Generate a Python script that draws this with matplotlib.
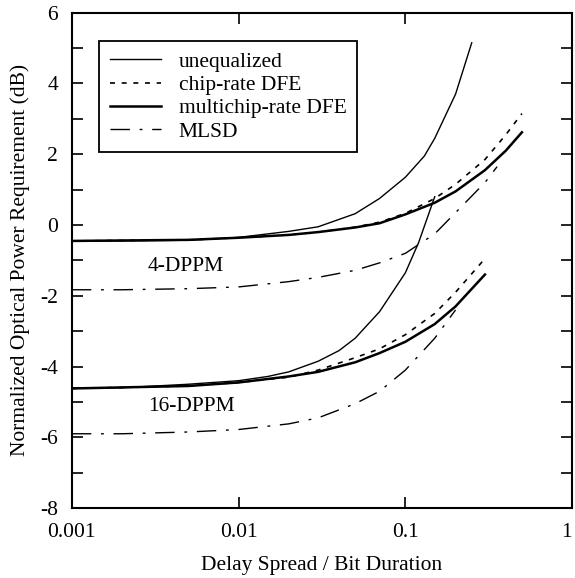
import matplotlib.pyplot as plt
from matplotlib.ticker import FixedLocator, MultipleLocator

plt.rcParams['font.family'] = ['Liberation Serif', 'DejaVu Serif']
plt.rcParams['font.size'] = 15.5
plt.rcParams['axes.unicode_minus'] = False

# 4-DPPM curves (delay spread / bit duration, dB)
x4_uneq = [0.001, 0.002, 0.005, 0.01, 0.02, 0.03, 0.05, 0.07, 0.1, 0.13, 0.15, 0.2, 0.25]
y4_uneq = [-0.45, -0.45, -0.43, -0.35, -0.18, -0.05, 0.32, 0.75, 1.35, 1.95, 2.45, 3.7, 5.15]

x4_chip = [0.001, 0.005, 0.01, 0.02, 0.03, 0.05, 0.07, 0.1, 0.15, 0.2, 0.3, 0.4, 0.5]
y4_chip = [-0.45, -0.42, -0.36, -0.28, -0.2, -0.06, 0.08, 0.33, 0.75, 1.15, 1.85, 2.55, 3.15]

x4_multi = [0.001, 0.005, 0.01, 0.02, 0.03, 0.05, 0.07, 0.1, 0.15, 0.2, 0.3, 0.4, 0.5]
y4_multi = [-0.45, -0.42, -0.36, -0.28, -0.2, -0.07, 0.05, 0.3, 0.63, 0.95, 1.55, 2.1, 2.62]

x4_mlsd = [0.001, 0.002, 0.005, 0.01, 0.02, 0.03, 0.05, 0.07, 0.1, 0.15, 0.2, 0.3, 0.355]
y4_mlsd = [-1.83, -1.83, -1.8, -1.75, -1.6, -1.48, -1.28, -1.07, -0.8, -0.25, 0.35, 1.2, 1.65]

# 16-DPPM curves
x16_uneq = [0.001, 0.002, 0.005, 0.01, 0.015, 0.02, 0.03, 0.04, 0.05, 0.07, 0.1, 0.12, 0.15]
y16_uneq = [-4.6, -4.6, -4.5, -4.4, -4.28, -4.15, -3.85, -3.55, -3.2, -2.45, -1.35, -0.5, 0.8]

x16_chip = [0.001, 0.005, 0.01, 0.02, 0.03, 0.05, 0.07, 0.1, 0.15, 0.2, 0.3]
y16_chip = [-4.62, -4.55, -4.45, -4.3, -4.1, -3.75, -3.5, -3.1, -2.5, -1.9, -0.95]

x16_multi = [0.001, 0.005, 0.01, 0.02, 0.03, 0.05, 0.07, 0.1, 0.15, 0.2, 0.3]
y16_multi = [-4.62, -4.55, -4.45, -4.28, -4.15, -3.88, -3.62, -3.3, -2.8, -2.3, -1.4]

x16_mlsd = [0.001, 0.002, 0.005, 0.01, 0.02, 0.03, 0.05, 0.07, 0.1, 0.15, 0.2]
y16_mlsd = [-5.9, -5.9, -5.85, -5.78, -5.62, -5.45, -5.05, -4.7, -4.1, -3.2, -2.4]

chip_style = (0, (3, 4))
mlsd_style = (0, (14, 7, 2, 7))

fig = plt.figure(figsize=(5.75, 5.78), dpi=100)
ax = fig.add_axes([0.125, 0.121, 0.870, 0.857])

ax.plot(x4_uneq, y4_uneq, color='black', lw=1.0, label='unequalized')
ax.plot(x4_chip, y4_chip, color='black', lw=1.2, ls=chip_style, label='chip-rate DFE')
ax.plot(x4_multi, y4_multi, color='black', lw=1.8, label='multichip-rate DFE')
ax.plot(x4_mlsd, y4_mlsd, color='black', lw=1.0, ls=mlsd_style, label='MLSD')

ax.plot(x16_uneq, y16_uneq, color='black', lw=1.0)
ax.plot(x16_chip, y16_chip, color='black', lw=1.2, ls=chip_style)
ax.plot(x16_multi, y16_multi, color='black', lw=1.8)
ax.plot(x16_mlsd, y16_mlsd, color='black', lw=1.0, ls=mlsd_style)

ax.text(0.0048, -1.18, '4-DPPM', ha='center', va='center')
ax.text(0.0052, -5.14, '16-DPPM', ha='center', va='center')

ax.set_xscale('log')
ax.set_xlim(0.001, 1)
ax.set_ylim(-8, 6)
ax.xaxis.set_major_locator(FixedLocator([0.001, 0.01, 0.1, 1]))
ax.xaxis.set_minor_locator(FixedLocator([]))
ax.set_xticklabels(['0.001', '0.01', '0.1', '1'])
ax.get_xticklabels()[-1].set_ha('right')
ax.yaxis.set_major_locator(MultipleLocator(2))
ax.yaxis.set_minor_locator(MultipleLocator(1))
ax.tick_params(which='both', direction='in', top=True, right=True, width=1.2)
ax.tick_params(which='major', length=8)
ax.tick_params(which='minor', length=8)
ax.tick_params(axis='x', pad=11)
ax.tick_params(axis='y', pad=10)
for s in ax.spines.values():
    s.set_linewidth(1.5)

ax.set_xlabel('Delay Spread / Bit Duration', labelpad=10)
ax.set_ylabel('Normalized Optical Power Requirement (dB)', labelpad=7)

leg = ax.legend(loc='upper left', bbox_to_anchor=(0.054, 0.943), fancybox=False,
                edgecolor='black', framealpha=1, handlelength=2.4,
                borderpad=0.5, labelspacing=0.15, handletextpad=0.8, borderaxespad=0)
leg.get_frame().set_linewidth(1.3)

fig.savefig('out.png', dpi=100)
